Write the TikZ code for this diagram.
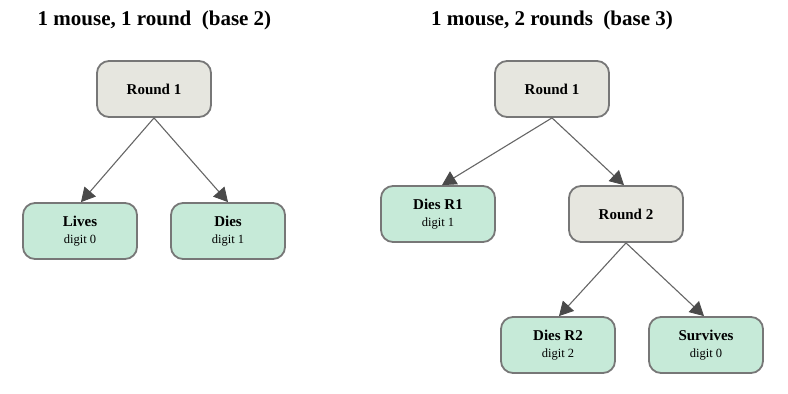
\documentclass[tikz,border=0pt]{standalone}
\usepackage{fontspec}
\setmainfont{Liberation Serif}
\usetikzlibrary{arrows.meta}
\definecolor{greyfill}{HTML}{E6E6DF}
\definecolor{greenfill}{HTML}{C6EAD8}
\definecolor{edgecol}{HTML}{666666}
\definecolor{bordercol}{HTML}{777777}
\definecolor{tipcol}{HTML}{4A4A4A}
\tikzset{
  box/.style={draw=bordercol, line width=1.8pt, rounded corners=12pt,
    minimum width=114pt, minimum height=56pt, inner sep=0pt, align=center},
  roundbox/.style={box, fill=greyfill, font=\fontsize{15}{16}\selectfont\bfseries},
  leafbox/.style={box, fill=greenfill},
  edge/.style={draw=edgecol, line width=1.1pt,
    -{Triangle[length=14pt,width=15pt,color=tipcol,fill=tipcol,line width=0.8pt]}},
  titletext/.style={font=\fontsize{21}{23}\selectfont\bfseries, inner sep=0pt}
}
\newcommand{\leaflabel}[2]{{\fontsize{15}{16}\selectfont\bfseries #1}\\[5pt]{\fontsize{12.5}{13}\selectfont #2}}
\begin{document}
\begin{tikzpicture}[x=1pt,y=-1pt]
\useasboundingbox (0,0) rectangle (788,394);
\node[titletext] (t1) at (154.5,20) {1 mouse, 1 round\ \ (base 2)};
\node[titletext] (t2) at (552,20) {1 mouse, 2 rounds\ \ (base 3)};

\node[roundbox] (r1) at (154,89) {Round 1};
\node[leafbox] (lives) at (80,231) {\leaflabel{Lives}{digit 0}};
\node[leafbox] (dies) at (228,231) {\leaflabel{Dies}{digit 1}};

\node[roundbox] (rr1) at (552,89) {Round 1};
\node[leafbox] (d1) at (438,214) {\leaflabel{Dies R1}{digit 1}};
\node[roundbox] (rr2) at (626,214) {Round 2};
\node[leafbox] (d2) at (558,345) {\leaflabel{Dies R2}{digit 2}};
\node[leafbox] (surv) at (706,345) {\leaflabel{Survives}{digit 0}};

\draw[edge] (r1.south) -- ([xshift=1pt]lives.north);
\draw[edge] (r1.south) -- (dies.north);
\draw[edge] (rr1.south) -- ([xshift=4pt]d1.north);
\draw[edge] (rr1.south) -- ([xshift=-2pt]rr2.north);
\draw[edge] (rr2.south) -- ([xshift=1pt]d2.north);
\draw[edge] (rr2.south) -- ([xshift=-2pt]surv.north);
\end{tikzpicture}
\end{document}
